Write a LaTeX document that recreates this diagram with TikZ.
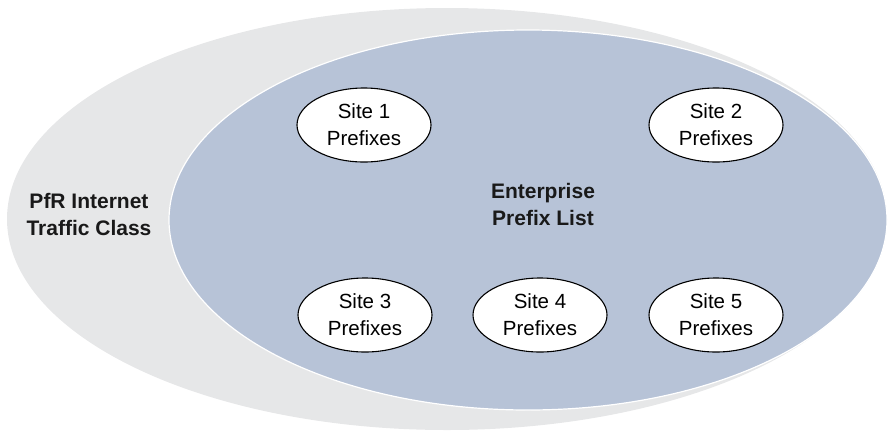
\documentclass[tikz,border=0pt]{standalone}
\usepackage{fontspec}
\setmainfont{Liberation Sans}
\usetikzlibrary{shapes.geometric}
\definecolor{outergray}{HTML}{E6E7E8}
\definecolor{innerblue}{HTML}{B7C3D7}
\begin{document}
\begin{tikzpicture}[x=1pt,y=-1pt,
  sitebox/.style={ellipse, draw=black, line width=1.1pt, fill=white,
    minimum width=134pt, minimum height=74pt, inner sep=0pt, align=center,
    font=\fontsize{20.5pt}{26.7pt}\selectfont},
  biglabel/.style={align=center, font=\fontsize{21pt}{27pt}\selectfont\bfseries, text=black!90}]
\useasboundingbox (0,0) rectangle (888,432);
\fill[outergray] (447,219) ellipse [x radius=440, y radius=211];
\filldraw[fill=innerblue, draw=white, line width=1.2pt] (528,220) ellipse [x radius=359, y radius=190];
\node[biglabel] (ptc) at (89,214) {PfR Internet\\Traffic Class};
\node[biglabel] (epl) at (543,204) {Enterprise\\Prefix List};
\node[sitebox] (s1) at (364,125) {Site 1\\Prefixes};
\node[sitebox] (s2) at (716,125) {Site 2\\Prefixes};
\node[sitebox] (s3) at (365,315) {Site 3\\Prefixes};
\node[sitebox] (s4) at (540,315) {Site 4\\Prefixes};
\node[sitebox] (s5) at (716,315) {Site 5\\Prefixes};
\end{tikzpicture}
\end{document}
